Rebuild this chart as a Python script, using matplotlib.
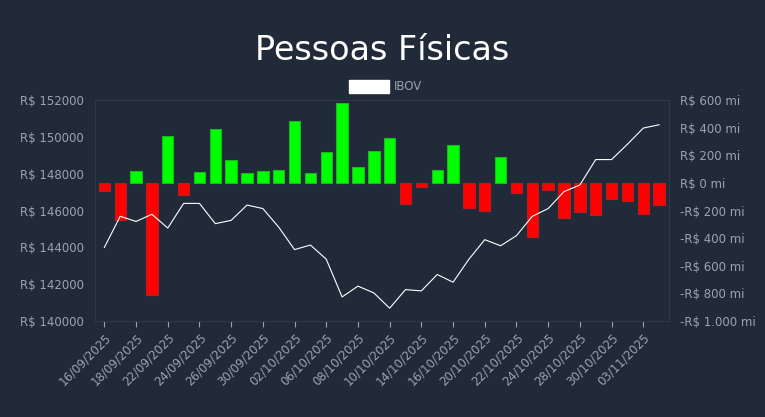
import matplotlib
matplotlib.use("Agg")
import matplotlib.pyplot as plt
import numpy as np

dates = ["16/09/2025","17/09/2025","18/09/2025","19/09/2025","22/09/2025","23/09/2025","24/09/2025","25/09/2025",
         "26/09/2025","29/09/2025","30/09/2025","01/10/2025","02/10/2025","03/10/2025","06/10/2025","07/10/2025",
         "08/10/2025","09/10/2025","10/10/2025","13/10/2025","14/10/2025","15/10/2025","16/10/2025","17/10/2025",
         "20/10/2025","21/10/2025","22/10/2025","23/10/2025","24/10/2025","27/10/2025","28/10/2025","29/10/2025",
         "30/10/2025","31/10/2025","03/11/2025","04/11/2025"]
flow = [-60,-270,90,-814,338,-90,76,390,167,74,86,93,448,74,223,581,113,230,323,
        -150,-27,93,275,-179,-201,191,-74,-392,-49,-252,-211,-235,-115,-130,-228,-157]
ibov = [144000,145690,145410,145800,145050,146390,146390,145290,145470,146300,146110,145100,
        143880,144130,143360,141310,141900,141530,140700,141710,141640,142530,142110,143360,
        144420,144090,144640,145690,146110,147030,147390,148770,148770,149600,150480,150660]
left_ticks = [140000,142000,144000,146000,148000,150000,152000]
right_ticks = [-1000,-800,-600,-400,-200,0,200,400,600]

bg = "#212a39"
tc = "#9aa3ae"
fig = plt.figure(figsize=(7.65,4.17), dpi=100, facecolor=bg)
ax2 = fig.add_axes([0.124,0.23,0.75,0.53])
ax = ax2.twinx()
ax2.set_facecolor(bg)
x = np.arange(len(dates))
cols = ["#00ff00" if v >= 0 else "#ff0000" for v in flow]
ax.bar(x, flow, width=0.72, color=cols, edgecolor=["#1fb51f" if v>=0 else "#b51f1f" for v in flow], linewidth=0.8)
ax.set_ylim(-1000,600)
ax.set_yticks(right_ticks)
ax.set_yticklabels(["-R$ 1.000 mi" if v==-1000 else ("R$ 0 mi" if v==0 else ("-R$ %d mi"%(-v) if v<0 else "R$ %d mi"%v)) for v in right_ticks])
ax2.plot(x, ibov, color="white", lw=0.8)
ax2.set_ylim(140000,152000)
ax2.set_yticks(left_ticks)
ax2.set_yticklabels(["R$ %d"%v for v in left_ticks])
ax2.set_xlim(-0.6, len(dates)-0.4)
ax2.set_xticks(x[::2])
ax2.set_xticklabels(dates[::2], rotation=45, ha="right", rotation_mode="anchor")
ax2.set_zorder(ax.get_zorder()+1); ax2.patch.set_visible(False)
ax.patch.set_facecolor(bg)
for a in (ax, ax2):
    a.tick_params(colors=tc, labelsize=8.5, length=4)
    a.tick_params(axis="y", length=0, pad=8)
    for s in a.spines.values():
        s.set_color("#2f3848")
fig.text(0.5, 0.88, "Pessoas Físicas", color="white", fontsize=24, ha="center", va="center")
fig.patches.append(plt.Rectangle((0.456,0.778),0.052,0.03, transform=fig.transFigure, color="white"))
fig.text(0.515, 0.793, "IBOV", color=tc, fontsize=8.5, va="center")
fig.savefig("out.png", facecolor=bg)
